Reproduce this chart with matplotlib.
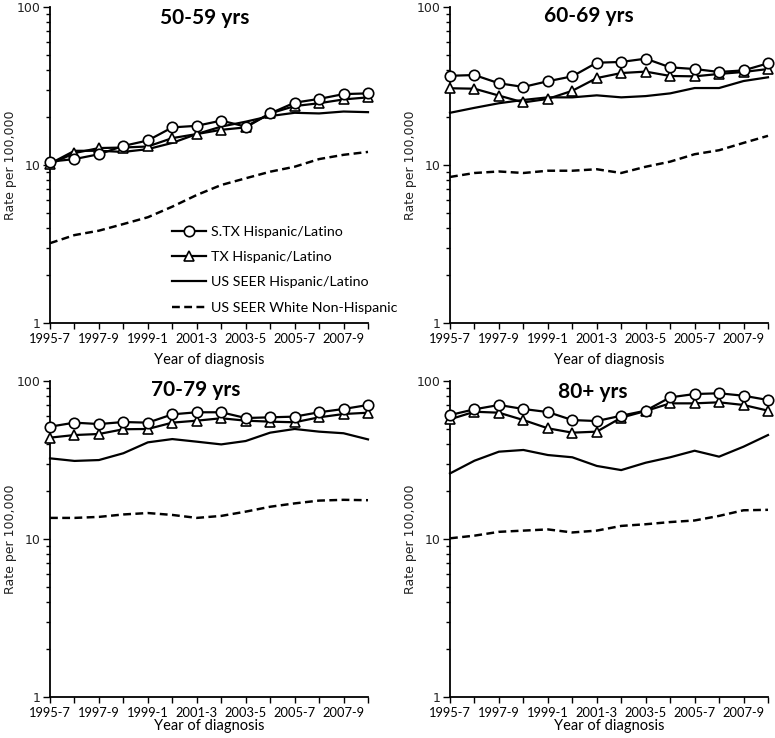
import matplotlib
matplotlib.use("Agg")
import matplotlib.pyplot as plt
from matplotlib.ticker import FixedLocator, NullFormatter, FixedFormatter
import numpy as np

periods = ["1995-7", "1996-8", "1997-9", "1998-0", "1999-1", "2000-2", "2001-3",
           "2002-4", "2003-5", "2004-6", "2005-7", "2006-8", "2007-9", "2008-10"]

series_names = ["S.TX Hispanic/Latino", "TX Hispanic/Latino",
                "US SEER Hispanic/Latino", "US SEER White Non-Hispanic"]

panel_titles = ["50-59 yrs", "60-69 yrs", "70-79 yrs", "80+ yrs"]

# 50-59 yrs
stx_50 = [10.5, 10.9, 11.7, 13.2, 14.3, 17.3, 17.7, 19.1, 17.5, 21.2, 24.8, 26.2, 28.1, 28.4]
tx_50 = [10.1, 11.9, 12.8, 12.9, 13.1, 14.8, 15.7, 16.7, 17.3, 21.2, 23.6, 24.6, 26.0, 26.8]
seer_h_50 = [10.2, 12.3, 12.3, 12.1, 12.6, 13.8, 15.7, 17.5, 18.8, 20.4, 21.4, 21.2, 21.8, 21.6]
seer_w_50 = [3.2, 3.6, 3.84, 4.23, 4.67, 5.45, 6.46, 7.47, 8.24, 9.07, 9.75, 10.9, 11.6, 12.1]

# 60-69 yrs
stx_60 = [36.7, 37.1, 32.9, 31.2, 33.9, 36.4, 44.4, 44.9, 47.1, 41.5, 40.5, 38.8, 39.7, 44.0]
tx_60 = [30.6, 30.4, 27.5, 24.9, 26.2, 29.5, 35.5, 38.2, 39.0, 36.6, 36.4, 37.7, 38.8, 40.5]
seer_h_60 = [21.4, 23.0, 24.6, 25.8, 26.8, 26.8, 27.6, 26.8, 27.3, 28.4, 30.7, 30.7, 34.0, 35.9]
seer_w_60 = [8.4, 8.9, 9.1, 8.9, 9.2, 9.2, 9.4, 8.9, 9.75, 10.5, 11.7, 12.4, 13.8, 15.3]

# 70-79 yrs
stx_70 = [51.4, 54.5, 53.4, 55.0, 54.5, 61.5, 63.4, 63.4, 58.3, 58.9, 59.5, 63.4, 66.5, 70.5]
tx_70 = [43.8, 45.5, 46.2, 49.5, 49.7, 54.5, 56.1, 58.1, 56.1, 55.3, 54.8, 58.9, 61.8, 63.0]
seer_h_70 = [32.4, 31.2, 31.6, 34.9, 40.9, 42.9, 41.3, 39.7, 41.7, 47.1, 49.7, 47.8, 46.7, 42.7]
seer_w_70 = [13.6, 13.6, 13.8, 14.3, 14.6, 14.2, 13.6, 14.0, 14.9, 16.0, 16.8, 17.5, 17.7, 17.6]

# 80+ yrs
stx_80 = [60.9, 66.2, 70.5, 66.5, 63.6, 56.6, 55.8, 60.3, 64.9, 78.8, 82.7, 83.6, 80.7, 75.8]
tx_80 = [57.2, 63.9, 63.0, 56.6, 50.2, 47.1, 47.8, 58.6, 64.6, 72.2, 72.2, 73.3, 70.5, 64.9]
seer_h_80 = [26.0, 31.3, 35.7, 36.6, 34.0, 32.9, 29.0, 27.3, 30.4, 32.9, 36.2, 33.2, 38.4, 45.5]
seer_w_80 = [10.1, 10.5, 11.1, 11.3, 11.5, 11.0, 11.3, 12.1, 12.4, 12.8, 13.1, 14.0, 15.2, 15.3]

panels = [
    (stx_50, tx_50, seer_h_50, seer_w_50),
    (stx_60, tx_60, seer_h_60, seer_w_60),
    (stx_70, tx_70, seer_h_70, seer_w_70),
    (stx_80, tx_80, seer_h_80, seer_w_80),
]

W, H = 775, 738
fig = plt.figure(figsize=(W / 100, H / 100), dpi=100)

def rect(l, r, t, b):
    return [l / W, 1 - b / H, (r - l) / W, (b - t) / H]

rects = [rect(50, 368, 7, 323), rect(450, 768, 7, 323),
         rect(50, 368, 381, 697), rect(450, 768, 381, 697)]
title_pos = [(205, 18), (589, 16), (196, 390), (593, 392)]
xlabel_pads = [6, 6, 0, 0]

label_font = ["Lato", "DejaVu Sans"]
x = np.arange(len(periods))

for i, (ax_rect, data) in enumerate(zip(rects, panels)):
    ax = fig.add_axes(ax_rect)
    stx, tx, sh, sw = data
    lw = 1.6
    ax.plot(x, stx, color="black", lw=lw, marker="o", ms=7.5, mfc="white", mec="black",
            mew=1.2, clip_on=False, zorder=5, label=series_names[0])
    ax.plot(x, tx, color="black", lw=lw, marker="^", ms=7, mfc="white", mec="black",
            mew=1.2, clip_on=False, zorder=4, label=series_names[1])
    ax.plot(x, sh, color="black", lw=lw, clip_on=False, zorder=3, label=series_names[2])
    ax.plot(x, sw, color="black", lw=lw * 1.1, ls=(0, (3.2, 1.8)), clip_on=False, zorder=3,
            label=series_names[3])
    ax.set_yscale("log")
    ax.set_ylim(1, 100)
    ax.set_xlim(0, len(periods) - 1)
    ax.yaxis.set_major_locator(FixedLocator([1, 10, 100]))
    ax.yaxis.set_major_formatter(FixedFormatter(["1", "10", "100"]))
    minors = [m * d for d in (1, 10) for m in range(2, 10)]
    ax.yaxis.set_minor_locator(FixedLocator(minors))
    ax.yaxis.set_minor_formatter(NullFormatter())
    ax.set_xticks(x)
    ax.set_xticklabels([p if j % 2 == 0 else "" for j, p in enumerate(periods)],
                       fontsize=9.3, family=label_font)
    for lab in ax.get_yticklabels():
        lab.set_fontsize(9)
        lab.set_family("DejaVu Sans")
        lab.set_color("#222222")
    ax.tick_params(axis="x", direction="out", length=4, width=1, pad=3)
    ax.tick_params(axis="y", which="major", direction="out", length=5, width=1, pad=2)
    ax.tick_params(axis="y", which="minor", direction="out", length=3, width=1)
    for s in ("top", "right"):
        ax.spines[s].set_visible(False)
    for s in ("left", "bottom"):
        ax.spines[s].set_linewidth(1.3)
    ax.set_xlabel("Year of diagnosis", fontsize=10.5, family=label_font,
                  labelpad=xlabel_pads[i])
    ax.set_ylabel("Rate per 100,000", fontsize=9, family="DejaVu Sans", color="#222222")
    ax.yaxis.set_label_coords(-0.104, 0.5)
    tx_, ty_ = title_pos[i]
    fig.text(tx_ / W, 1 - ty_ / H, panel_titles[i], fontsize=15, fontweight="bold",
             family=label_font, ha="center", va="center")
    if i == 0:
        ax.legend(loc="upper left", bbox_to_anchor=((172 - 50) / 318, 1 - (226 - 7) / 316),
                  frameon=False, prop={"family": label_font, "size": 10.3},
                  handlelength=2.4, numpoints=1, labelspacing=0.92, handletextpad=0.3,
                  borderaxespad=0, borderpad=0)

fig.savefig("out.png", dpi=100)
